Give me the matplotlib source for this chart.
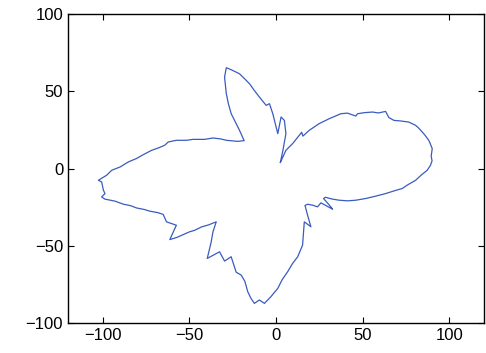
import matplotlib
matplotlib.use("Agg")
import matplotlib.pyplot as plt
import numpy as np

plt.rcParams['font.family'] = ['Liberation Sans', 'DejaVu Sans']

# traced outline of the pattern (closed curve), starting at the centre
# right lobe, then the lower lobe, the left lobe and the upper lobe
x = [2.5, 5.7, 9.6, 13.4, 14.8, 15.5, 19.2, 24.9, 30.7, 37.4, 41.2, 46.0, 47.0, 51.0, 55.6,
     59.0, 63.2, 65.1, 68.0, 72.0, 76.6, 80.5, 82.0, 84.3, 86.0, 88.1, 89.0, 90.1, 89.5,
     90.0, 89.1, 87.2, 84.0, 80.5, 76.0, 72.8, 68.0, 63.2, 57.0, 51.7, 46.0, 41.2, 36.5,
     32.6, 28.5, 27.4, 31.6, 32.6, 25.9, 23.9, 21.1, 18.2, 16.7, 18.2, 20.1, 16.3, 15.8,
     15.3, 12.5, 9.5, 6.7, 3.5, 1.0, -3.0, -6.7, -9.6, -12.5, -14.5, -16.3, -18.0, -20.1,
     -23.0, -24.5, -25.9, -29.7, -32.6, -39.7, -37.5, -36.4, -34.5, -39.0, -43.0, -47.0,
     -50.0, -54.0, -57.0, -61.3, -57.5, -63.2, -65.1, -68.0, -72.8, -76.0, -80.5, -84.0,
     -88.0, -92.9, -98.7, -100.6, -98.7, -99.6, -100.6, -102.5, -97.7, -94.8, -90.0,
     -85.2, -80.5, -76.6, -71.8, -68.0, -64.2, -62.2, -57.5, -51.7, -47.9, -41.2, -36.4,
     -32.0, -28.7, -22.0, -18.4, -21.1, -25.9, -27.5, -28.7, -29.7, -28.7, -25.9, -21.1,
     -18.0, -15.3, -12.5, -9.6, -5.7, -3.8, -1.9, 1.0, 2.9, 4.8, 5.7, 4.0, 2.5]
y = [4.0, 11.8, 16.2, 21.5, 23.5, 21.0, 24.8, 29.1, 32.3, 35.5, 35.9, 34.0, 35.5, 36.2, 36.6,
     36.0, 37.0, 33.0, 31.2, 30.8, 30.1, 28.0, 26.5, 23.7, 21.5, 18.3, 16.0, 12.9, 8.0,
     5.0, 2.1, -1.1, -4.0, -7.6, -10.5, -12.9, -14.5, -16.2, -18.0, -19.4, -20.5, -20.9,
     -20.5, -19.8, -18.6, -19.4, -24.8, -26.3, -22.2, -24.8, -23.7, -23.1, -23.9, -30.2,
     -37.7, -34.5, -42.0, -49.6, -57.1, -61.5, -66.8, -72.0, -77.6, -83.0, -87.3, -85.1,
     -87.3, -84.0, -79.8, -73.0, -69.0, -67.1, -62.0, -57.1, -59.9, -53.9, -58.2, -48.0,
     -41.0, -34.5, -36.5, -37.8, -40.0, -41.0, -43.0, -44.5, -46.0, -36.7, -34.5, -29.7,
     -28.6, -27.6, -26.5, -25.5, -24.0, -23.1, -21.1, -19.8, -18.4, -16.2, -14.0, -8.7,
     -7.6, -4.3, -1.1, 1.0, 4.3, 6.5, 9.0, 11.8, 13.3, 15.1, 17.2, 18.3, 18.3, 18.9, 18.9,
     19.8, 19.2, 18.3, 17.6, 18.1, 24.8, 35.6, 42.0, 48.5, 59.2, 65.3, 64.0, 61.4, 58.0,
     54.9, 50.5, 46.3, 40.9, 42.0, 35.6, 22.6, 33.4, 31.2, 22.6, 12.0, 4.0]

fig = plt.figure(figsize=(4.86, 3.53), dpi=100)
ax = fig.add_axes([0.140, 0.085, 0.856, 0.875])
ax.plot(x, y, color='#3a5bbf', linewidth=0.9)

ax.set_xlim(-120, 120)
ax.set_ylim(-100, 100)
ax.set_xticks([-100, -50, 0, 50, 100])
ax.set_yticks([-100, -50, 0, 50, 100])
ax.tick_params(direction='in', top=True, right=True, labelsize=12, length=4, width=0.8)
for s in ax.spines.values():
    s.set_linewidth(1.0)

plt.savefig('out.png', dpi=100)
